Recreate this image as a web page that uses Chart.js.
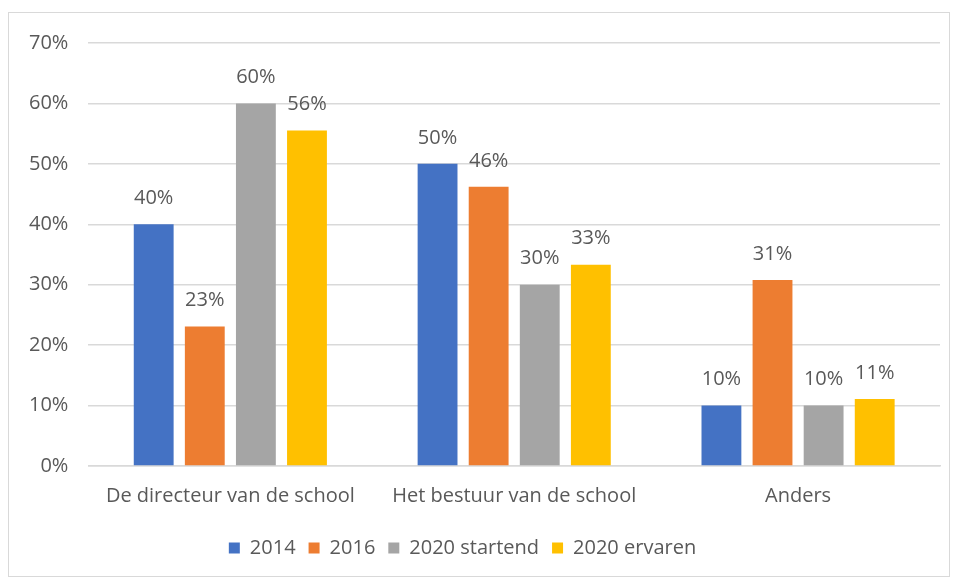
<!DOCTYPE html>
<html>
<head>
<meta charset="utf-8">
<script src="https://cdn.jsdelivr.net/npm/chart.js@4.4.1/dist/chart.umd.min.js"></script>
<style>
  html, body { margin: 0; padding: 0; background: #ffffff; }
  #frame {
    position: absolute; left: 8px; top: 12px;
    width: 942px; height: 565px;
    border: 1px solid #d9d9d9; box-sizing: border-box;
  }
  #chart { display: block; }
</style>
</head>
<body>
<div id="frame"><canvas id="chart" width="940" height="563"></canvas></div>
<script>
// chart data
const categories = ['De directeur van de school', 'Het bestuur van de school', 'Anders'];
const seriesNames = ['2014', '2016', '2020 startend', '2020 ervaren'];
const values2014 = [40, 50, 10];
const values2016 = [23.1, 46.2, 30.8];
const values2020Startend = [60, 30, 10];
const values2020Ervaren = [55.5, 33.3, 11.1];
const yTicks = [0, 10, 20, 30, 40, 50, 60, 70];

const colors = ['#4472c4', '#ed7d31', '#a5a5a5', '#ffc000'];
const textColor = '#595959';
const fontFamily = '"Open Sans", sans-serif';
const fontSize = 20;

// draws the percent labels above each bar
const valueLabels = {
  id: 'valueLabels',
  afterDatasetsDraw(chart) {
    const ctx = chart.ctx;
    ctx.save();
    ctx.font = fontSize + 'px ' + fontFamily;
    ctx.fillStyle = textColor;
    ctx.textAlign = 'center';
    ctx.textBaseline = 'middle';
    chart.data.datasets.forEach((ds, i) => {
      chart.getDatasetMeta(i).data.forEach((bar, j) => {
        ctx.fillText(Math.round(ds.data[j]) + '%', bar.x, bar.y - 26);
      });
    });
    ctx.restore();
  }
};

// nudge the legend a little to the left, like the original
const legendShift = {
  id: 'legendShift',
  afterLayout(chart) {
    if (chart.legend) {
      chart.legend.left -= 12;
      chart.legend.right -= 12;
    }
  }
};

const allSeries = [values2014, values2016, values2020Startend, values2020Ervaren];

new Chart(document.getElementById('chart'), {
  type: 'bar',
  data: {
    labels: categories,
    datasets: allSeries.map((vals, i) => ({
      label: seriesNames[i],
      data: vals,
      backgroundColor: colors[i],
      categoryPercentage: 0.72,
      barPercentage: 0.78
    }))
  },
  options: {
    responsive: false,
    animation: false,
    layout: { padding: { left: 0, right: 9, top: 10, bottom: 8 } },
    plugins: {
      legend: {
        position: 'bottom',
        labels: {
          boxWidth: 11,
          boxHeight: 11,
          padding: 13,
          color: textColor,
          font: { family: fontFamily, size: fontSize }
        }
      },
      tooltip: { enabled: false }
    },
    scales: {
      x: {
        grid: { display: false },
        border: { color: '#d9d9d9', width: 1.5 },
        ticks: { color: textColor, font: { family: fontFamily, size: fontSize }, padding: 10 },
        afterFit(scale) { scale.height += 7; }
      },
      y: {
        min: 0,
        max: 70,
        afterBuildTicks(axis) { axis.ticks = yTicks.map(v => ({ value: v })); },
        grid: { color: '#d9d9d9', lineWidth: 1.5, drawTicks: false },
        border: { display: false },
        ticks: {
          color: textColor,
          font: { family: fontFamily, size: fontSize, lineHeight: 1 },
          padding: 20,
          callback: v => v + '%'
        }
      }
    }
  },
  plugins: [valueLabels, legendShift]
});
</script>
</body>
</html>
